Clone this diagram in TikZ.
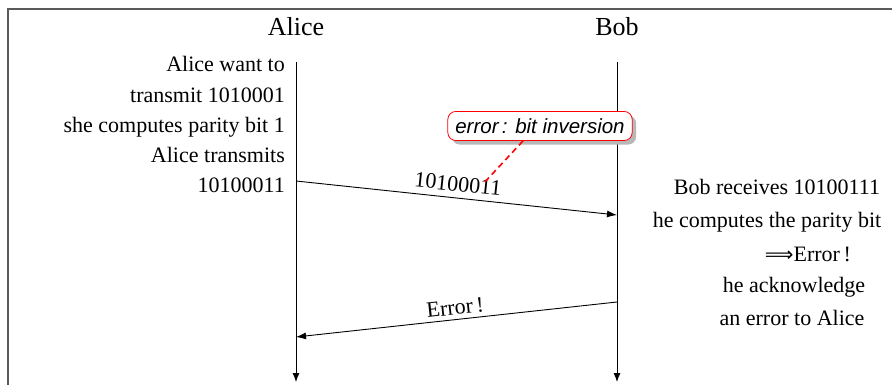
\documentclass[tikz,border=0pt]{standalone}
\usepackage{fontspec}
\setmainfont{Liberation Serif}
\newfontfamily\errfont{Liberation Sans}
\newfontfamily\arrowfont{DejaVu Sans}
\usetikzlibrary{arrows.meta,shadows}
\definecolor{framegray}{RGB}{90,90,90}
\begin{document}
\begin{tikzpicture}[x=1pt,y=-1pt,
  txt/.style={font=\fontsize{22}{26}\selectfont, inner sep=0pt},
  head/.style={font=\fontsize{26}{30}\selectfont, inner sep=0pt, anchor=base},
  lifeline/.style={draw=black, line width=0.9pt, -{Latex[length=9pt,width=7pt]}},
  msg/.style={draw=black, line width=0.9pt, -{Latex[length=10pt,width=7pt]}},
  errbox/.style={draw=red, line width=0.8pt, rounded corners=8pt, fill=white,
    inner xsep=7.5pt, inner ysep=7pt,
    drop shadow={shadow xshift=4pt, shadow yshift=-4pt, fill=black!28, opacity=1},
    font=\errfont\itshape\fontsize{20.5}{24}\selectfont},
  errlink/.style={draw=red, dashed, line width=1.6pt, dash pattern=on 6pt off 4pt}
]
\useasboundingbox (0,0) rectangle (892,385);
% frame
\draw[framegray, line width=1.3pt] (892,9) -- (8,9) -- (8,386);

% headings
\node[head] (alice) at (296,36) {Alice};
\node[head] (bob) at (617,36) {Bob};

% lifelines
\coordinate (atop) at (296,62);
\coordinate (abot) at (296,382);
\coordinate (btop) at (617,62);
\coordinate (bbot) at (617,382);
\draw[lifeline] (atop) -- (abot);
\draw[lifeline] (btop) -- (bbot);

% Alice text
\node[txt, anchor=base east] (a1) at (285,72) {Alice want to};
\node[txt, anchor=base east] (a2) at (285,103) {transmit 1010001};
\node[txt, anchor=base east] (a3) at (285,133) {she computes parity bit 1};
\node[txt, anchor=base east] (a4) at (285,163) {Alice transmits};
\node[txt, anchor=base east] (a5) at (285,193) {10100011};

% Bob text
\node[txt, anchor=base] (b1) at (777,195) {Bob receives 10100111};
\node[txt, anchor=base] (b2) at (767,227) {he computes the parity bit};
\node[txt, anchor=base] (b3) at (808,261) {{\arrowfont\fontsize{20}{24}\selectfont ⟹}Error\,!};
\node[txt, anchor=base] (b4) at (794,292) {he acknowledge};
\node[txt, anchor=base] (b5) at (792,325) {an error to Alice};

% message 1
\coordinate (m1s) at (296,181);
\coordinate (m1e) at (617,215);
\draw[msg] (m1s) -- node[txt, pos=0.5, sloped, above=6pt] (lab1) {10100011} (m1e);

% message 2
\coordinate (m2s) at (617,302);
\coordinate (m2e) at (296,337);
\draw[msg] (m2s) -- node[txt, pos=0.5, sloped, above=4pt] (lab2) {Error\,!} (m2e);

% error callout
\node[errbox] (err) at (540,126) {error\,: bit inversion};
\coordinate (errpt) at (483,184);
\draw[errlink] ([xshift=-17pt]err.south) -- (errpt);
\end{tikzpicture}
\end{document}
